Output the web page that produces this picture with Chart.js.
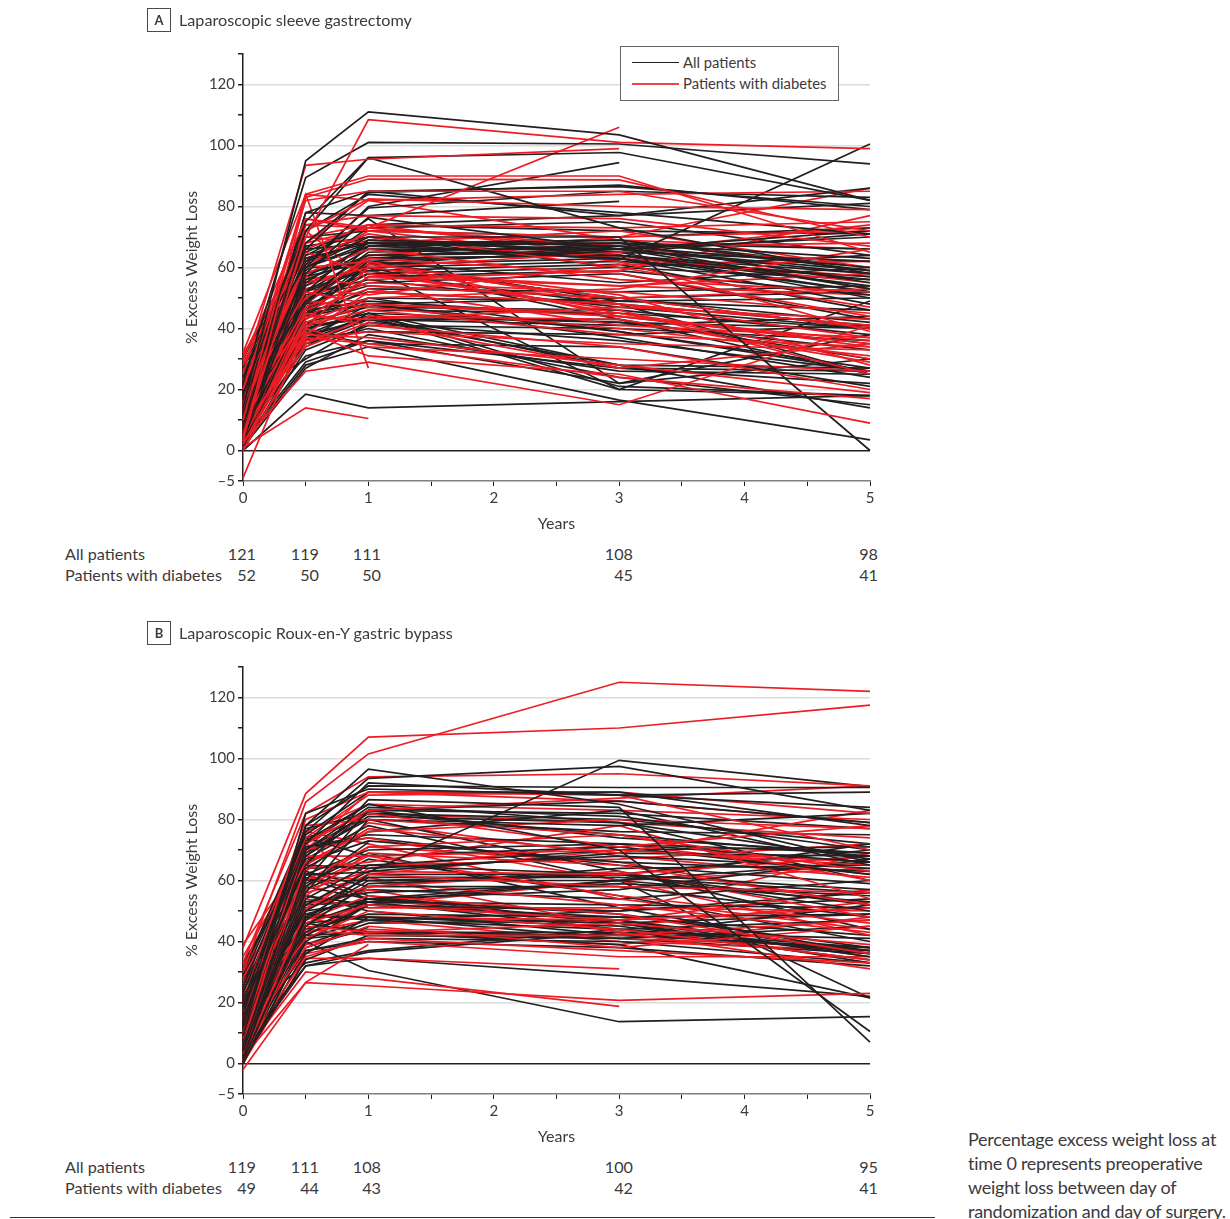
<!DOCTYPE html>
<html>
<head>
<meta charset="utf-8">
<script src="https://cdn.jsdelivr.net/npm/chart.js@4"></script>
<style>
  html, body { margin: 0; padding: 0; background: #fff; }
  body { width: 1230px; height: 1219px; position: relative; overflow: hidden; font-family: Lato, sans-serif; color: #3c3a3b; }
  canvas { position: absolute; left: 0; }
  .t { position: absolute; white-space: nowrap; line-height: 20px; font-size: 16.2px; }
  .r { text-align: right; }
  .badge { position: absolute; left: 147px; width: 22px; height: 22px; border: 1px solid #4a4a4a; font: bold 13px/22px Lato, sans-serif; text-align: center; }
  .legend { position: absolute; left: 620px; top: 46px; width: 217px; height: 53px; border: 1px solid #666; background: #fff; }
  .legend i { position: absolute; left: 11px; width: 47px; height: 1px; }
  .legend span { position: absolute; left: 62px; font-size: 14.8px; line-height: 20px; white-space: nowrap; }
  .note { position: absolute; left: 968px; top: 1127px; font-size: 18px; line-height: 24px; letter-spacing: -0.26px; white-space: nowrap; }
  .rule { position: absolute; left: 10px; top: 1217px; width: 925px; height: 1px; background: #333; }
</style>
</head>
<body>
<canvas id="sleeve" width="900" height="535" style="top:0"></canvas>
<canvas id="bypass" width="900" height="535" style="top:613px"></canvas>
<div id="labels"></div>
<div class="legend">
  <i style="top:15px;background:#231f20"></i><span style="top:5px">All patients</span>
  <i style="top:36px;height:2px;background:#f0454b"></i><span style="top:26px">Patients with diabetes</span>
</div>
<div class="note">Percentage excess weight loss at<br>time 0 represents preoperative<br>weight loss between day of<br>randomization and day of surgery.</div>
<div class="rule"></div>

<script>
// measurement times, in years
const years = [0, 0.5, 1, 3, 5]

// one row per patient: value at each of the years above
const sleeveAll = [
  [14,95,111,103.5,82],[22,89.5,101,100.5,94],[18,75,96,97.7,82],[8,72,96,73,58],[12,78,85,86.5,80],
  [9,68,84.5,87,79],[16,66,85,77,86],[24,72,84,78,71],[7,60,80,94.4,null],[11,78,77,81.7,null],
  [3,58,76.5,66,72],[19,63,68,62.6,100.5],[5,60,70,70,0],[27,61,79.5,85,83],
  [6,55,68,68,63],[13,52,69,67,60],[10,60,68,66,58],[2,48,67,68,55],[17,58,66,66,70],
  [4,50,65,67,53],[21,62,69,65,71],[8,56,64,65,62],[15,49,63,64,56],[1,46,62,65,50],
  [25,66,68,69,59],[12,54,66,63,52],[9,44,61,63,48],[3,52,60,62,57],[19,58,63,68,66],
  [28,64,70,64,54],[6,47,58,60,64],[11,53,59,61,46],[14,41,57,59,51],[7,50,55,58,43],[23,57,62,55,60],
  [5,43,53,52,54],[16,48,54,50,42],[2,39,50,49,46],[10,45,52,48,41],[18,51,56,47,40],
  [0,36,48,50,52],[13,42,47,46,38],[20,46,49,44,35],[4,38,46,45,40],[8,40,45,42,33],
  [26,55,60,43,30],[12,35,43,41,44],[1,33,41,40,36],[15,44,50,39,27],[6,37,39,38,41],[22,50,58,48,25],
  [0,18.5,14,16,18],[2,28,34,16.5,3.5],[3,29,36,27,22],[6,37,44,27,26],[4,34,45,21,18],
  [10,36,44,20,49],[7,31,36,22,38],[9,41,43,28,14],[1,27,38,26,25],[14,35,40,24,15],
  [17,30,42,36,26],[5,39,35,34,21],[11,45,48,37,24],[12,60,60,20,18],[8,62,76,22,30],
  [20,65,74,77,81],[30,70,72,70,73],[31,64,74,72,71],[28,67,70,60,56],[24,59,73,75,64],
  [12,48,63,64,58],[7,52,64,66,59],[18,57,67,64,52],[3,45,61,66,53],[10,60,67,69,60],
  [5,46,60,50,40],[15,40,44,42,40],[9,38,43,43,25],[13,44,48,39,26],[2,40,45,28,27],[16,49,62,49,50]
]
const sleeveDiabetes = [
  [4,70,108.5,101,99],[25,93.5,95.5,99,null],[10,84,90,90,65],[3,83,89,88.7,70],[20,82,85,85,72],
  [30,76,73,106,null],[15,84,82,84,85],[8,72,82.5,80,79],[5,74,77,76,67],[12,70,74,73,75],
  [32,84,27,null,null],[1,14,10.5,null,null],[3,26,29,15,41],[-9,40,60,50,40],[2,39,31,25,9],
  [7,37,35,24,17],[9,45,41,34,20],[16,52,48,45,30],[18,41,46,38,34],[14,60,62,44,35],
  [29,65,58,46,25],[11,47,55,52,45],[22,58,66,56,52],[4,42,50,53,66],[0,35,44,43,29],
  [31,70,68,72,60],[13,63,71,60,47],[6,55,60,65,74],[24,50,63,58,44],[2,46,53,41,37],
  [19,44,43,47,43],[28,68,73,67,68],[8,36,39,35,33],[32,57,54,50,53],[10,49,47,40,31],
  [5,43,57,54,58],[17,61,70,62,39],[15,38,37,28,19],[26,54,61,51,28],[3,48,64,70,86],
  [12,40,34,30,26],[21,72,56,59,77],[9,34,42,27,35],[1,66,74,64,55],[23,53,51,61,62],
  [6,60,72,70,72],[14,74,73,66,62],[20,68,82,69,66],[7,50,62,48,37],[11,56,59,45,34],
  [25,47,58,54,51],[3,41,48,44,36],[16,76,72,63,57],[1,38,52,48,41]
]
const bypassAll = [
  [12,78,96.5,85,66],[20,76,93.5,97.4,83],[16,78,91,90.5,90.5],[9,82,90,88,84],[14,72,92,88,89],
  [25,75,89,89,78],[6,62,62.7,99.4,90.8],[18,65,86.5,84,7],[23,73,85,70,10.5],[4,60,83,86,79],
  [10,70,84,81,70],[30,77,82,75,68],[2,56,80,78,82],[13,68,81,79,67],[7,64,76,83,65],
  [21,71,75,72,69],[3,58,72.5,null,null],[15,66,73,66,63],[11,62,70,72,66],[28,74,68,71,62],
  [5,54,65,70,71],[19,65,64,68,64],[8,52,63,69,68],[1,47,62,62,70],[24,64,65,62,57],
  [12,50,61,61,56],[17,60,60,62,50],[6,48,60,60,53],[3,45,59,62,52],[29,63,58,58,48],
  [10,53,56,59,55],[14,43,54,60,66],[22,58,54,57,67],[7,46,53,60,72],[16,50,53,52,51],
  [4,42,52,50,56],[26,61,54,49,38],[0,40,52,47,37],[9,44,49,48,49],[13,48,48,45,36],
  [2,36,48,46,35],[18,49,47,44,34],[5,38,44.7,null,null],[11,42,43,42,38],[20,46,43,43,37],
  [1,34,42,41,45],[8,37,41,40,33],[15,33,37,44,47],[3,32,36.5,43,41],[0,37,40,38,32],
  [0,40,30.5,13.7,15.4],[6,32,34.5,28.7,22],[12,41,43,39,21.5],[24,55,50,42,52],[17,67,78,60,21.5],
  [27,69,80,63,44],[31,71,74,65,59],[5,57,67,55,40],[16,59,69,51,36],[9,51,57,54,60],
  [19,62,55,46,49],[2,41,47,50,54],[14,55,52,48,42],[22,39,46,47,35],[11,47,58,64,65],[33,68,83,74,69],
  [4,70,82,80,72],[8,74,80,76,75],[20,66,83,82,77],[13,46,48,41,36],[7,52,53,44,38],[1,49,54,46,33],[26,72,85,79,60]
]
const bypassDiabetes = [
  [38,88.5,107,110,117.5],[30,85.7,101.5,125,122],[33,82,94,95,91],[20,80,89,88,70],[25,74,88,89,82],
  [10,72,83,87,91],[14,78,80,75,63],[6,73,82,71,78],[28,66,76,80,77],[3,65,77,69,83],
  [17,60,71,75,60],[39,68,68,70,65],[8,64,66,78,54],[12,55,69,65,52],[23,72,62,58,56],
  [31,57,63,62,68],[5,58,68,55,46],[2,50,64,72,62],[16,52,58,63,48],[9,46,52,47,51],
  [19,62,60,52,43],[26,47,55,49,36],[1,45,43,46,39],[13,41,50,44,34],[7,38,45,38,45],
  [22,44,42,42,47],[4,35,41,37,33],[15,51,57,43,31],[11,36,40,35,35],[-2,26.6,39,null,null],
  [0,34.5,34.5,31,null],[3,30,28,18.7,null],[2,26.5,25.5,20.7,23],[27,49,48,47,57],[18,54,51,51,50],
  [35,70,74,60,42],[6,43,47,40,37],[10,60,65,67,72],[29,76,72,54,44],[1,56,61,45,53],
  [21,42,53,50,69],[12,39,44,41,38],[24,63,79,68,61],
  [15,76,85,83,80],[9,69,82,79,74],[32,70,89,86,79],[5,52,62,70,66],[19,58,71,66,52],[2,48,43,39,48],[11,44,52,60,64]
]

// axis ticks. The bottom tick is printed as -5 but sits a full 10-step below 0
const yTicks = [-10, 0, 10, 20, 30, 40, 50, 60, 70, 80, 90, 100, 110, 120, 130]
const yLabelled = [0, 20, 40, 60, 80, 100, 120]
const xTicks = [0, 0.5, 1, 1.5, 2, 2.5, 3, 3.5, 4, 4.5, 5]

// patients at each time point, under the plots
const sleeveCountAll = [121, 119, 111, 108, 98]
const sleeveCountDiabetes = [52, 50, 50, 45, 41]
const bypassCountAll = [119, 111, 108, 100, 95]
const bypassCountDiabetes = [49, 44, 43, 42, 41]

const BLACK = '#231f20'
const RED = '#ed1c24'
const TEXT = '#3c3a3b'
const FONT = { family: 'Lato', size: 15 }
const TITLE_FONT = { family: 'Lato', size: 16 }


// a lower order is painted later, so the step decides which colour ends up on top
function lineSets(rows, color, step) {
    return rows.map((row, i) => ({
        data: row.map((v, k) => ({ x: years[k], y: v })),
        borderColor: color,
        borderWidth: 1.7,
        pointRadius: 0,
        tension: 0,
        clip: 3,
        order: i * step
    }))
}

function drawPanel(id, all, diabetes, allStep, diabetesStep) {
    new Chart(document.getElementById(id), {
        type: 'line',
        data: { datasets: lineSets(all, BLACK, allStep).concat(lineSets(diabetes, RED, diabetesStep)) },
        options: {
            responsive: false,
            animation: false,
            layout: { padding: { left: 182, right: 30, top: 54, bottom: 0 } },
            plugins: { legend: { display: false }, tooltip: { enabled: false } },
            scales: {
                x: {
                    type: 'linear',
                    min: 0,
                    max: 5,
                    afterBuildTicks: s => { s.ticks = xTicks.map(v => ({ value: v })) },
                    afterFit: s => { s.height = 54 },
                    border: { color: '#807e7f', width: 1.5 },
                    grid: { color: 'transparent', tickColor: BLACK, tickLength: 5 },
                    ticks: {
                        color: TEXT, font: FONT, padding: 3, autoSkip: false, maxRotation: 0,
                        callback: v => Number.isInteger(v) ? String(v) : ''
                    },
                    title: { display: true, text: 'Years', color: TEXT, font: TITLE_FONT, padding: { top: 0, bottom: 2 } }
                },
                y: {
                    min: -10,
                    max: 130,
                    afterBuildTicks: s => { s.ticks = yTicks.map(v => ({ value: v })) },
                    afterFit: s => { s.width = 61 },
                    border: { color: BLACK, width: 1.5 },
                    grid: {
                        tickColor: BLACK,
                        tickLength: 5,
                        color: c => c.tick.value === 0 ? BLACK : (yLabelled.includes(c.tick.value) ? '#dcdcdc' : 'transparent'),
                        lineWidth: 1.5
                    },
                    ticks: {
                        color: TEXT, font: FONT, padding: 3, autoSkip: false,
                        callback: v => v === -10 ? '–5' : (yLabelled.includes(v) ? String(v) : '')
                    },
                    title: { display: true, text: '% Excess Weight Loss', color: TEXT, font: TITLE_FONT, padding: { top: 0, bottom: 0 } }
                }
            }
        }
    })
}

drawPanel('sleeve', sleeveAll, sleeveDiabetes, 1.5, 1)
drawPanel('bypass', bypassAll, bypassDiabetes, 1, 1.5)


// Panel heading and the number-at-risk table
const countRight = [256, 319, 381, 633, 878]

function addText(text, left, top, right) {
    const el = document.createElement('div')
    el.className = right ? 't r' : 't'
    el.textContent = text
    el.style.top = top + 'px'
    if (right) {
        el.style.right = (1230 - left) + 'px'
    } else {
        el.style.left = left + 'px'
    }
    document.getElementById('labels').appendChild(el)
}

function addPanelText(letter, title, offset, countAll, countDiabetes) {
    const badge = document.createElement('div')
    badge.className = 'badge'
    badge.textContent = letter
    badge.style.top = (8 + offset) + 'px'
    document.getElementById('labels').appendChild(badge)

    addText(title, 179, 10 + offset)
    addText('All patients', 65, 544 + offset)
    addText('Patients with diabetes', 65, 565 + offset)
    countRight.forEach((x, i) => {
        addText(String(countAll[i]), x, 544 + offset, true)
        addText(String(countDiabetes[i]), x, 565 + offset, true)
    })
}

addPanelText('A', 'Laparoscopic sleeve gastrectomy', 0, sleeveCountAll, sleeveCountDiabetes)
addPanelText('B', 'Laparoscopic Roux-en-Y gastric bypass', 613, bypassCountAll, bypassCountDiabetes)
</script>
</body>
</html>
